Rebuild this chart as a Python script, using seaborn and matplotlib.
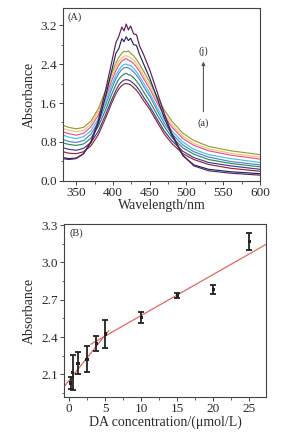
import numpy as np
import pandas as pd
import matplotlib
matplotlib.use("Agg")
import matplotlib.pyplot as plt
from matplotlib.ticker import MultipleLocator, FormatStrFormatter
import seaborn as sns

# ---------------- Panel A data: UV-vis spectra (a)..(j) ----------------
wavelength = [332, 340, 350, 360, 370, 380, 390, 398, 404, 408, 412, 415, 418, 421,
              424, 428, 432, 436, 442, 450, 460, 470, 480, 495, 510, 530, 560, 600]

spec_a = [0.60, 0.57, 0.56, 0.60, 0.72, 0.95, 1.29, 1.59, 1.79, 1.89, 1.96, 1.99, 2.00, 1.99,
          1.97, 1.92, 1.86, 1.78, 1.64, 1.47, 1.21, 0.96, 0.77, 0.56, 0.44, 0.34, 0.26, 0.20]
spec_b = [0.68, 0.65, 0.63, 0.67, 0.79, 1.02, 1.36, 1.66, 1.86, 1.97, 2.04, 2.07, 2.08, 2.07,
          2.05, 2.00, 1.94, 1.86, 1.71, 1.53, 1.27, 1.02, 0.83, 0.61, 0.48, 0.38, 0.31, 0.24]
spec_c = [0.78, 0.75, 0.73, 0.76, 0.88, 1.12, 1.46, 1.77, 1.98, 2.09, 2.16, 2.19, 2.21, 2.18,
          2.17, 2.12, 2.05, 1.97, 1.82, 1.63, 1.36, 1.11, 0.90, 0.68, 0.55, 0.44, 0.36, 0.29]
spec_d = [0.85, 0.81, 0.79, 0.83, 0.96, 1.20, 1.56, 1.88, 2.10, 2.21, 2.29, 2.32, 2.33, 2.32,
          2.29, 2.24, 2.17, 2.09, 1.93, 1.74, 1.45, 1.18, 0.97, 0.74, 0.60, 0.49, 0.40, 0.33]
spec_e = [0.94, 0.90, 0.87, 0.91, 1.03, 1.27, 1.63, 1.96, 2.17, 2.28, 2.36, 2.39, 2.40, 2.38,
          2.37, 2.31, 2.24, 2.15, 2.00, 1.80, 1.51, 1.25, 1.03, 0.80, 0.65, 0.54, 0.46, 0.38]
spec_f = [1.01, 0.97, 0.94, 0.98, 1.11, 1.35, 1.72, 2.05, 2.27, 2.38, 2.46, 2.49, 2.51, 2.48,
          2.46, 2.41, 2.34, 2.25, 2.09, 1.89, 1.60, 1.33, 1.11, 0.87, 0.73, 0.62, 0.53, 0.45]
spec_g = [1.08, 1.04, 1.01, 1.04, 1.17, 1.42, 1.79, 2.12, 2.34, 2.45, 2.53, 2.56, 2.57, 2.55,
          2.53, 2.48, 2.41, 2.32, 2.15, 1.95, 1.66, 1.38, 1.16, 0.92, 0.77, 0.66, 0.57, 0.49]
spec_h = [1.14, 1.10, 1.07, 1.10, 1.23, 1.48, 1.86, 2.20, 2.42, 2.54, 2.62, 2.66, 2.65, 2.67,
          2.62, 2.57, 2.49, 2.40, 2.24, 2.03, 1.73, 1.45, 1.23, 0.98, 0.83, 0.71, 0.62, 0.54]
spec_i = [0.48, 0.46, 0.47, 0.56, 0.79, 1.18, 1.74, 2.25, 2.62, 2.72, 2.92, 2.86, 2.96, 2.88,
          2.93, 2.80, 2.78, 2.60, 2.39, 2.11, 1.70, 1.29, 0.94, 0.52, 0.33, 0.24, 0.19, 0.15]
spec_j = [0.46, 0.44, 0.46, 0.56, 0.81, 1.24, 1.87, 2.42, 2.84, 2.97, 3.16, 3.08, 3.22, 3.10,
          3.18, 3.02, 3.00, 2.78, 2.58, 2.28, 1.83, 1.37, 0.98, 0.53, 0.31, 0.21, 0.16, 0.12]

curve_names = ["a", "b", "c", "d", "e", "f", "g", "h", "i", "j"]
curve_colors = ["#9B2335", "#3B3F8F", "#2E8B57", "#5A7FD0", "#45C3E6",
                "#E0559A", "#F2C46B", "#9A9A3A", "#1C2A5E", "#5B1F55"]

# ---------------- Panel B data: calibration ----------------
da_conc = [0.25, 0.5, 1.25, 2.5, 3.75, 5, 10, 15, 20, 25]
absorb = [2.03, 2.115, 2.19, 2.222, 2.348, 2.424, 2.56, 2.735, 2.785, 3.17]
absorb_err = [0.048, 0.14, 0.09, 0.105, 0.064, 0.115, 0.045, 0.02, 0.035, 0.067]

fit1_range = [-0.7, 5.5]
fit1_coef = [2.05, 0.073]     # intercept, slope
fit2_range = [3.0, 27.3]
fit2_coef = [2.242, 0.0331]

# ---------------- style ----------------
sns.set_style("ticks")
plt.rcParams["font.family"] = ["Liberation Serif", "DejaVu Serif"]
txt = "#2a2a2a"
plt.rcParams.update({
    "axes.edgecolor": "#444444", "axes.linewidth": 0.8,
    "xtick.color": "#444444", "ytick.color": "#444444",
    "xtick.labelcolor": txt, "ytick.labelcolor": txt,
    "axes.labelcolor": txt, "text.color": txt,
    "xtick.direction": "out", "ytick.direction": "out",
    "xtick.major.size": 3, "ytick.major.size": 3,
    "xtick.minor.size": 1.8, "ytick.minor.size": 1.8,
    "xtick.major.width": 0.7, "ytick.major.width": 0.7,
    "xtick.minor.width": 0.6, "ytick.minor.width": 0.6,
    "xtick.major.pad": 1.5, "ytick.major.pad": 1.5,
})

fig = plt.figure(figsize=(2.91, 4.38), dpi=100)
ax1 = fig.add_axes([0.2165, 0.5868, 0.677, 0.395])
ax2 = fig.add_axes([0.220, 0.0936, 0.694, 0.395])

# ---- Panel A ----
specs = [spec_a, spec_b, spec_c, spec_d, spec_e, spec_f, spec_g, spec_h, spec_i, spec_j]
rows = []
for name, s in zip(curve_names, specs):
    for w, v in zip(wavelength, s):
        rows.append({"Wavelength": w, "Absorbance": v, "curve": name})
df = pd.DataFrame(rows)
sns.lineplot(data=df, x="Wavelength", y="Absorbance", hue="curve",
             palette=curve_colors, estimator=None, linewidth=0.85,
             legend=False, ax=ax1)
ax1.set_xlim(332, 600)
ax1.set_ylim(0, 3.55)
ax1.xaxis.set_major_locator(MultipleLocator(50))
ax1.xaxis.set_minor_locator(MultipleLocator(25))
ax1.yaxis.set_major_locator(MultipleLocator(0.8))
ax1.yaxis.set_minor_locator(MultipleLocator(0.4))
ax1.yaxis.set_major_formatter(FormatStrFormatter("%.1f"))
ax1.tick_params(labelsize=9.5)
ax1.set_xlabel("Wavelength/nm", fontsize=10, labelpad=0)
ax1.set_ylabel("Absorbance", fontsize=10, labelpad=3)
ax1.text(0.025, 0.975, "(A)", transform=ax1.transAxes, ha="left", va="top", fontsize=7.5)
ax1.annotate("", xy=(523, 2.45), xytext=(523, 1.42),
             arrowprops=dict(arrowstyle="-|>", color="#555555", lw=0.8,
                             mutation_scale=5, shrinkA=0, shrinkB=0))
ax1.text(523, 2.66, "(j)", ha="center", va="center", fontsize=7.5)
ax1.text(523, 1.19, "(a)", ha="center", va="center", fontsize=7.5)

# ---- Panel B ----
for rng, coef in [(fit1_range, fit1_coef), (fit2_range, fit2_coef)]:
    xs = np.array(rng)
    ax2.plot(xs, coef[0] + coef[1] * xs, color="#E06A62", lw=0.9, zorder=1)
ax2.errorbar(da_conc, absorb, yerr=absorb_err, fmt="none", ecolor="#222222",
             elinewidth=1.3, capsize=2.0, capthick=1.3, zorder=2)
sns.scatterplot(x=da_conc, y=absorb, color="#222222", s=5, marker="s",
                edgecolor="none", ax=ax2, zorder=3)
ax2.set_xlim(-0.69, 27.3)
ax2.set_ylim(1.917, 3.31)
ax2.xaxis.set_major_locator(MultipleLocator(5))
ax2.xaxis.set_minor_locator(MultipleLocator(2.5))
ax2.yaxis.set_major_locator(MultipleLocator(0.3))
ax2.yaxis.set_minor_locator(MultipleLocator(0.15))
ax2.yaxis.set_major_formatter(FormatStrFormatter("%.1f"))
ax2.tick_params(labelsize=9.5)
ax2.set_xlabel("DA concentration/(μmol/L)", fontsize=10, labelpad=0)
ax2.set_ylabel("Absorbance", fontsize=10, labelpad=4)
ax2.text(0.025, 0.975, "(B)", transform=ax2.transAxes, ha="left", va="top", fontsize=7.5)

for ax in (ax1, ax2):
    for sp in ax.spines.values():
        sp.set_visible(True)

fig.savefig("out.png", dpi=100)
